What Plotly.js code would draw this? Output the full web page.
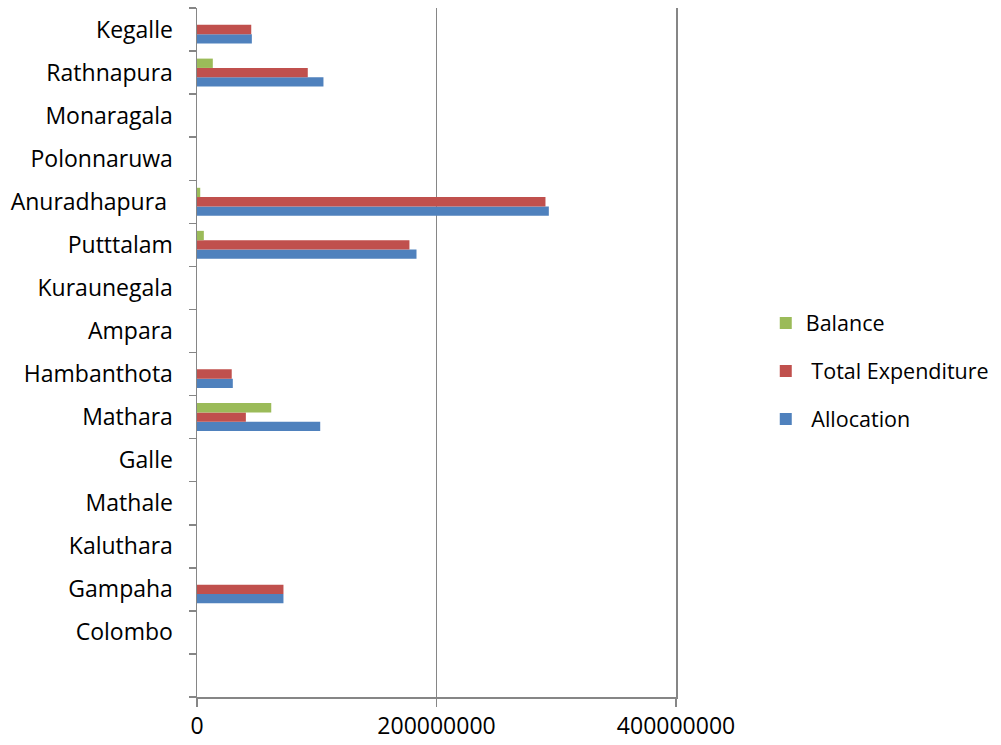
<!DOCTYPE html>
<html>
<head>
<meta charset="utf-8">
<script src="https://cdn.plot.ly/plotly-3.0.1.min.js"></script>
<style>html,body{margin:0;padding:0;background:#fff;}#chart{width:1001px;height:745px;}</style>
</head>
<body>
<div id="chart"></div>
<script>
// Categories, bottom to top (first entry is the blank row under Colombo)
var districts = ['\u00a0', 'Colombo', 'Gampaha', 'Kaluthara', 'Mathale', 'Galle', 'Mathara', 'Hambanthota', 'Ampara', 'Kuraunegala', 'Putttalam', 'Anuradhapura\u00a0', 'Polonnaruwa', 'Monaragala', 'Rathnapura', 'Kegalle'];
var allocation        = [null, null, 72200000, null, null, null, 102900000, 29900000, null, null, 183300000, 293800000, null, null, 105600000, 45800000];
var totalExpenditure  = [null, null, 72200000, null, null, null, 40800000, 29000000, null, null, 177400000, 291000000, null, null, 92500000, 45300000];
var balance           = [null, null, null, null, null, null, 62000000, null, null, null, 5700000, 2700000, null, null, 13200000, null];
var seriesNames = ['\u00a0Allocation', '\u00a0Total Expenditure', 'Balance'];
var xTicks = [0, 200000000, 400000000];
var xTickLabels = ['0', '200000000', '400000000'];

var font = {family: 'Open Sans, Noto Sans, sans-serif', size: 23, color: '#000'};
var legendFont = {family: 'Open Sans, Noto Sans, sans-serif', size: 21.5, color: '#000'};
var traces = [
  {type: 'bar', orientation: 'h', name: seriesNames[0], y: districts, x: allocation, marker: {color: '#4F81BD'}, legendrank: 3, legendgroup: 'g3'},
  {type: 'bar', orientation: 'h', name: seriesNames[1], y: districts, x: totalExpenditure, marker: {color: '#C0504D'}, legendrank: 2, legendgroup: 'g2'},
  {type: 'bar', orientation: 'h', name: seriesNames[2], y: districts, x: balance, marker: {color: '#9BBB59'}, legendrank: 1, legendgroup: 'g1'}
];
var layout = {
  width: 1001, height: 745,
  margin: {l: 197, r: 325, t: 8, b: 48},
  paper_bgcolor: '#fff', plot_bgcolor: '#fff',
  barmode: 'group', bargap: 0.35, bargroupgap: 0,
  font: font,
  showlegend: true,
  legend: {xref: 'container', yref: 'container', x: 0.765, y: 0.502, yanchor: 'middle', xanchor: 'left',
           traceorder: 'grouped', tracegroupgap: 17, font: legendFont, bgcolor: 'rgba(0,0,0,0)', itemwidth: 30},
  xaxis: {
    range: [0, 400000000], tickvals: xTicks, ticktext: xTickLabels,
    showgrid: true, gridcolor: '#868686', gridwidth: 1.5,
    showline: true, linecolor: '#868686', linewidth: 1.5,
    ticks: 'outside', ticklen: 8, tickcolor: '#868686', tickwidth: 1.5,
    zeroline: false, tickfont: font, automargin: false, fixedrange: true
  },
  yaxis: {
    type: 'category', categoryorder: 'array', categoryarray: districts,
    range: [-0.5, 15.5], tickson: 'boundaries',
    showgrid: false, showline: true, mirror: true, linecolor: '#868686', linewidth: 1.5,
    ticks: 'outside', ticklen: 7, tickcolor: '#868686', tickwidth: 1.5,
    ticklabelstandoff: 18,
    tickfont: font, automargin: false, fixedrange: true
  }
};
Plotly.newPlot('chart', traces, layout, {displayModeBar: false, staticPlot: true});
</script>
</body>
</html>
